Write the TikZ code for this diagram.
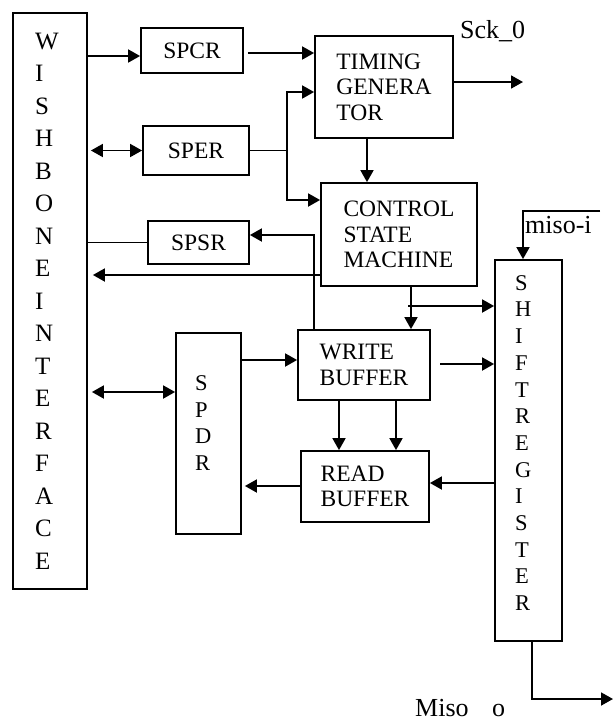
\documentclass[tikz,border=0pt]{standalone}
\usepackage{fontspec}
\setmainfont{Liberation Serif}
\usetikzlibrary{arrows.meta}
\newcommand{\bxf}{\fontsize{23.5}{25.5}\selectfont}
\begin{document}
\begin{tikzpicture}[x=1pt,y=-1pt,
  box/.style={draw, line width=1.8pt, inner sep=0pt, align=center, font=\bxf},
  stack/.style={box, align=left},
  lbl/.style={inner sep=0pt, font=\fontsize{26}{30}\selectfont},
  arr/.style={-{Triangle[length=12pt,width=13pt]}, line width=1.8pt},
  darr/.style={{Triangle[length=12pt,width=13pt]}-{Triangle[length=12pt,width=13pt]}, line width=1.8pt}]
\useasboundingbox (0,0) rectangle (614,724);

% boxes
\node[stack, minimum width=74pt, minimum height=576pt, text width=30pt, inner xsep=22pt,
  font=\fontsize{25}{32.5}\selectfont] (wb) at (50,301)
  {W\\I\\S\\H\\B\\O\\N\\E\\I\\N\\T\\E\\R\\F\\A\\C\\E};
\node[box, minimum width=102pt, minimum height=45pt] (spcr) at (192,50.5) {SPCR};
\node[box, minimum width=106pt, minimum height=49pt] (sper) at (196,150.5) {SPER};
\node[box, minimum width=101pt, minimum height=43pt] (spsr) at (198.5,242.5) {SPSR};
\node[box, minimum width=138pt, minimum height=102pt, align=left] (tg) at (384,87) {TIMING\\GENERA\\TOR};
\node[box, minimum width=156pt, minimum height=103pt, align=left] (csm) at (399,234.5) {CONTROL\\STATE\\MACHINE};
\node[box, minimum width=132pt, minimum height=70pt, align=left] (wrb) at (364,365) {WRITE\\BUFFER};
\node[box, minimum width=128pt, minimum height=71pt, align=left] (rb) at (365,486.5) {READ\\BUFFER};
\node[stack, minimum width=65pt, minimum height=201pt, text width=27pt, inner xsep=19pt,
  font=\fontsize{22.5}{26.7}\selectfont] (spdr) at (208.5,433.5)
  {S\\P\\D\\R\rule[-21pt]{0pt}{21pt}};
\node[stack, minimum width=67pt, minimum height=381pt, text width=27pt, inner xsep=20pt,
  font=\fontsize{22.5}{26.7}\selectfont] (sr) at (528.5,450.5)
  {S\\H\\I\\F\\T\\R\\E\\G\\I\\S\\T\\E\\R\rule[-15pt]{0pt}{15pt}};

% labels
\node[lbl, anchor=base west] (scklbl) at (460,38) {Sck\_0};
\node[lbl, anchor=base west] (milbl) at (525,233) {miso-i};
\node[lbl, anchor=base west] (molbl) at (415,716) {Miso\hspace{0.9em}o};

% connectors
\draw[arr] (wb.east |- 0,56) -- (spcr.west |- 0,56);
\draw[arr] ([xshift=4pt]spcr.east |- 0,53) -- (tg.west |- 0,53);
\draw[darr, shorten <=3pt] (wb.east |- sper.west) -- (sper.west);
\coordinate (j) at (287,150.5);
\draw[line width=1.8pt] (sper.east) -- (j);
\draw[arr] (j) |- (tg.west |- 0,92);
\draw[arr] (j) |- (csm.west |- 0,200);
\draw[arr] (wrb.north -| 314,0) |- (spsr.east |- 0,235);
\draw[line width=1.8pt] (wb.east |- spsr.west) -- (spsr.west);
\draw[arr, shorten >=5pt] (csm.west |- 0,275) -- (wb.east |- 0,275);
\draw[arr] (tg.south -| 367,0) -- (csm.north -| 367,0);
\coordinate (sck) at (523,82);
\draw[arr] (tg.east |- sck) -- (sck);
\coordinate (mi) at (600,211);
\draw[arr] (mi) -| (sr.north -| 523,0);
\draw[arr] (csm.south -| 411,0) -- (wrb.north -| 411,0);
\coordinate (cs2) at (408,306);
\draw[arr] (cs2) -- (sr.west |- cs2);
\draw[arr] (spdr.east |- 0,360) -- (wrb.west |- 0,360);
\coordinate (wbo) at (440,364);
\draw[arr] (wbo) -- (sr.west |- wbo);
\draw[arr] (wrb.south -| 339,0) -- (rb.north -| 339,0);
\draw[arr] (wrb.south -| 396,0) -- (rb.north -| 396,0);
\draw[arr] (sr.west |- 0,483) -- (rb.east |- 0,483);
\draw[arr, shorten >=3pt] (rb.west |- 0,486) -- (spdr.east |- 0,486);
\draw[darr, shorten <=4pt] (wb.east |- 0,392) -- (spdr.west |- 0,392);
\coordinate (mo) at (613,699);
\draw[arr] (sr.south -| 532,0) |- (mo);
\end{tikzpicture}
\end{document}
